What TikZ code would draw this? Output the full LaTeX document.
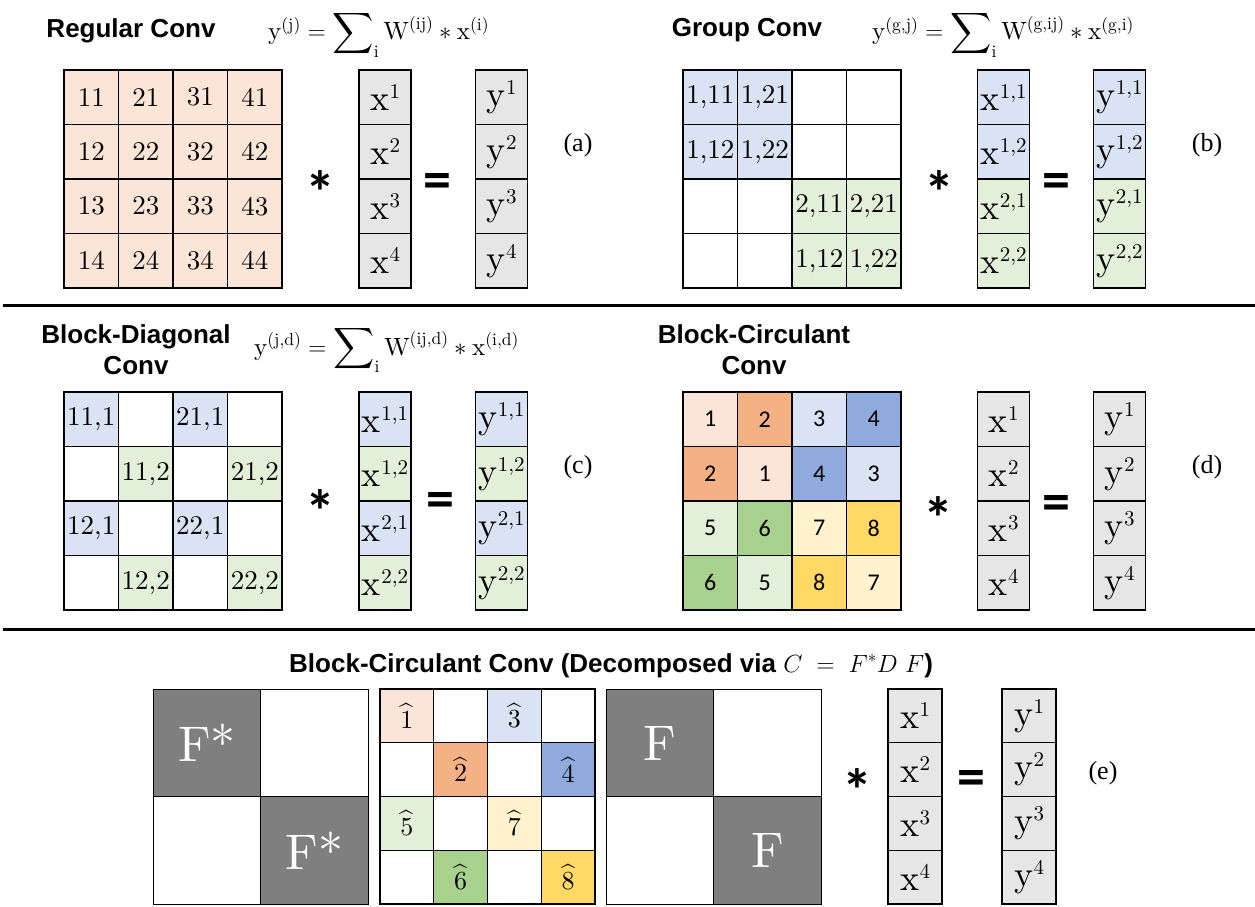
\documentclass[tikz,border=0pt]{standalone}
\usepackage{amsmath}
\usepackage{fontspec}
\usepackage{graphicx}
\newfontfamily\headfont{Liberation Sans}
\newfontfamily\tagfont{Liberation Serif}
\newfontfamily\opfont{Carlito}
\newfontfamily\cellfont{lmroman10-regular.otf}
\definecolor{peach}{HTML}{FBE5D6}
\definecolor{apricot}{HTML}{F4B183}
\definecolor{paleblue}{HTML}{DAE3F3}
\definecolor{midblue}{HTML}{8FAADC}
\definecolor{palegreen}{HTML}{E2F0D9}
\definecolor{midgreen}{HTML}{A9D18E}
\definecolor{paleyellow}{HTML}{FFF2CC}
\definecolor{gold}{HTML}{FFD966}
\definecolor{vecgray}{HTML}{E6E6E6}
\definecolor{blockgray}{HTML}{7F7F7F}
% large summation sign used in the layer formulas
\newcommand{\SumBig}{\mathop{\vcenter{\hbox{\scalebox{1.15}{$\displaystyle\sum$}}}}\nolimits}
% upright letters of the formulas
\newcommand{\ft}[1]{\text{\cellfont #1}}
% vector entry: letter with a raised index
\newcommand{\ventry}[2]{#1\kern0.5pt\raisebox{12pt}{\fontsize{21}{21}\selectfont #2}}
% spectral entry with a hat
\newcommand{\hatted}[1]{$\widehat{\text{\cellfont #1}}$}
\tikzset{
  mcell/.style={draw=black, line width=1.2pt, inner sep=0pt, minimum width=54.5pt,
    minimum height=54.5pt, font=\cellfont\fontsize{27}{27}\selectfont},
  dcell/.style={mcell, font=\opfont\fontsize{24}{24}\selectfont},
  hcell/.style={draw=black, line width=1.2pt, inner sep=0pt, minimum width=53.75pt,
    minimum height=53.75pt, font=\cellfont\fontsize{26}{26}\selectfont},
  vcell/.style={draw=black, line width=1.2pt, inner sep=0pt, minimum width=52pt,
    minimum height=54.5pt, fill=vecgray, font=\cellfont\fontsize{36}{36}\selectfont},
  evcell/.style={vcell, minimum width=54pt, minimum height=53.75pt},
  fblock/.style={draw=black, line width=1.2pt, inner sep=0pt, minimum width=107.5pt,
    minimum height=107.5pt, text=white, font=\cellfont\fontsize{50}{50}\selectfont},
  heading/.style={font=\headfont\bfseries\fontsize{26}{31}\selectfont, align=center, inner sep=0pt},
  formula/.style={font=\fontsize{25}{25}\selectfont, inner sep=0pt, anchor=base west},
  tag/.style={font=\tagfont\fontsize{26}{26}\selectfont, inner sep=0pt},
  mulop/.style={font=\opfont\bfseries\fontsize{60}{60}\selectfont, inner sep=0pt},
  eqop/.style={font=\opfont\bfseries\fontsize{56}{56}\selectfont, inner sep=0pt},
  rule/.style={line width=3pt}
}
\begin{document}
\begin{tikzpicture}[x=1pt, y=-1pt]
\useasboundingbox (0,0) rectangle (1255,907);

% ---------------- (a) regular convolution ----------------
\node[heading] (ta) at (131,30.5) {Regular Conv};
\node[formula] (fa) at (268,40)
  {$\ft{y}^{\ft{(j)}} = \SumBig_{\ft{i}} \ft{W}^{\ft{(ij)}} \ast \ft{x}^{\ft{(i)}}$};
\foreach \c in {1,...,4}
  \foreach \r in {1,...,4}
    \node[mcell, fill=peach] (a-\r-\c) at ({64+54.5*(\c-0.5)},{70+54.5*(\r-0.5)}) {\c\r};
\foreach \r in {1,...,4} {
  \node[vcell] (ax-\r) at (385,{70+54.5*(\r-0.5)}) {\ventry{x}{\r}};
  \node[vcell] (ay-\r) at (501.5,{70+54.5*(\r-0.5)}) {\ventry{y}{\r}};
}
\node[mulop] (amul) at (320,192) {*};
\node[eqop] (aeq) at (437,186) {=};
\node[tag] (la) at (578,145) {(a)};

% ---------------- (b) group convolution ----------------
\node[heading] (tb) at (747,30.5) {Group Conv};
\node[formula] (fb) at (872,40)
  {$\ft{y}^{\ft{(g,j)}} = \SumBig_{\ft{i}} \ft{W}^{\ft{(g,ij)}} \ast \ft{x}^{\ft{(g,i)}}$};
\foreach \r/\c/\f/\t in {1/1/paleblue/{1,11}, 1/2/paleblue/{1,21}, 1/3/white/{}, 1/4/white/{},
    2/1/paleblue/{1,12}, 2/2/paleblue/{1,22}, 2/3/white/{}, 2/4/white/{},
    3/1/white/{}, 3/2/white/{}, 3/3/palegreen/{2,11}, 3/4/palegreen/{2,21},
    4/1/white/{}, 4/2/white/{}, 4/3/palegreen/{1,12}, 4/4/palegreen/{1,22}}
  \node[mcell, fill=\f] (b-\r-\c) at ({683+54.5*(\c-0.5)},{70+54.5*(\r-0.5)}) {\t};
\foreach \r/\f/\t in {1/paleblue/{1,1}, 2/paleblue/{1,2}, 3/palegreen/{2,1}, 4/palegreen/{2,2}} {
  \node[vcell, fill=\f] (bx-\r) at (1003.5,{70+54.5*(\r-0.5)}) {\ventry{x}{\t}};
  \node[vcell, fill=\f] (by-\r) at (1119.5,{70+54.5*(\r-0.5)}) {\ventry{y}{\t}};
}
\node[mulop] (bmul) at (939,192) {*};
\node[eqop] (beq) at (1056,186) {=};
\node[tag] (lb) at (1207,145) {(b)};

\draw[rule] (3,305) -- (1255,305);

% ---------------- (c) block-diagonal convolution ----------------
\node[heading] (tc) at (136,350) {Block-Diagonal\\Conv};
\node[formula] (fc) at (254,355)
  {$\ft{y}^{\ft{(j,d)}} = \SumBig_{\ft{i}} \ft{W}^{\ft{(ij,d)}} \ast \ft{x}^{\ft{(i,d)}}$};
\foreach \r/\c/\f/\t in {1/1/paleblue/{11,1}, 1/2/white/{}, 1/3/paleblue/{21,1}, 1/4/white/{},
    2/1/white/{}, 2/2/palegreen/{11,2}, 2/3/white/{}, 2/4/palegreen/{21,2},
    3/1/paleblue/{12,1}, 3/2/white/{}, 3/3/paleblue/{22,1}, 3/4/white/{},
    4/1/white/{}, 4/2/palegreen/{12,2}, 4/3/white/{}, 4/4/palegreen/{22,2}}
  \node[mcell, fill=\f] (c-\r-\c) at ({64+54.5*(\c-0.5)},{392+54.5*(\r-0.5)}) {\t};
\foreach \r/\f/\t in {1/paleblue/{1,1}, 2/palegreen/{1,2}, 3/paleblue/{2,1}, 4/palegreen/{2,2}} {
  \node[vcell, fill=\f] (cx-\r) at (385,{392+54.5*(\r-0.5)}) {\ventry{x}{\t}};
  \node[vcell, fill=\f] (cy-\r) at (501.5,{392+54.5*(\r-0.5)}) {\ventry{y}{\t}};
}
\node[mulop] (cmul) at (320,511) {*};
\node[eqop] (ceq) at (440,505) {=};
\node[tag] (lc) at (578,467) {(c)};

% ---------------- (d) block-circulant convolution ----------------
\node[heading] (td) at (754,350) {Block-Circulant\\Conv};
\foreach \r/\c/\f/\t in {1/1/peach/1, 1/2/apricot/2, 1/3/paleblue/3, 1/4/midblue/4,
    2/1/apricot/2, 2/2/peach/1, 2/3/midblue/4, 2/4/paleblue/3,
    3/1/palegreen/5, 3/2/midgreen/6, 3/3/paleyellow/7, 3/4/gold/8,
    4/1/midgreen/6, 4/2/palegreen/5, 4/3/gold/8, 4/4/paleyellow/7}
  \node[dcell, fill=\f] (d-\r-\c) at ({683+54.5*(\c-0.5)},{392+54.5*(\r-0.5)}) {\t};
\foreach \r in {1,...,4} {
  \node[vcell] (dx-\r) at (1003.5,{392+54.5*(\r-0.5)}) {\ventry{x}{\r}};
  \node[vcell] (dy-\r) at (1119.5,{392+54.5*(\r-0.5)}) {\ventry{y}{\r}};
}
\node[mulop] (dmul) at (938,518) {*};
\node[eqop] (deq) at (1056,508) {=};
\node[tag] (ld) at (1207,467) {(d)};

\draw[rule] (3,629) -- (1255,629);

% ---------------- (e) decomposition C = F* D F ----------------
\node[heading, anchor=base west] (te) at (289,672)
  {Block-Circulant Conv (Decomposed via {\mdseries$C\ =\ F^{*}D\ F$})};
% inverse transform blocks
\node[fblock, fill=blockgray] (fs-1-1) at (207,743) {F*};
\node[fblock, fill=white] (fs-1-2) at (314.5,743) {};
\node[fblock, fill=white] (fs-2-1) at (207,850.5) {};
\node[fblock, fill=blockgray] (fs-2-2) at (314.5,850.5) {F*};
% diagonal spectrum blocks
\foreach \r/\c/\f/\t in {1/1/peach/1, 1/2/white/, 1/3/paleblue/3, 1/4/white/,
    2/1/white/, 2/2/apricot/2, 2/3/white/, 2/4/midblue/4,
    3/1/palegreen/5, 3/2/white/, 3/3/paleyellow/7, 3/4/white/,
    4/1/white/, 4/2/midgreen/6, 4/3/white/, 4/4/gold/8}
  \node[hcell, fill=\f] (h-\r-\c) at ({380+53.75*(\c-0.5)},{689+53.75*(\r-0.5)})
    {\ifx\t\empty\else\hatted{\t}\fi};
% forward transform blocks
\node[fblock, fill=blockgray] (ff-1-1) at (660,743) {F};
\node[fblock, fill=white] (ff-1-2) at (767.5,743) {};
\node[fblock, fill=white] (ff-2-1) at (660,850.5) {};
\node[fblock, fill=blockgray] (ff-2-2) at (767.5,850.5) {F};
\foreach \r in {1,...,4} {
  \node[evcell] (ex-\r) at (915,{689+53.75*(\r-0.5)}) {\ventry{x}{\r}};
  \node[evcell] (ey-\r) at (1029,{689+53.75*(\r-0.5)}) {\ventry{y}{\r}};
}
\node[mulop] (emul) at (857,790) {*};
\node[eqop] (eeq) at (971,783) {=};
\node[tag] (le) at (1103,773) {(e)};
\end{tikzpicture}
\end{document}
